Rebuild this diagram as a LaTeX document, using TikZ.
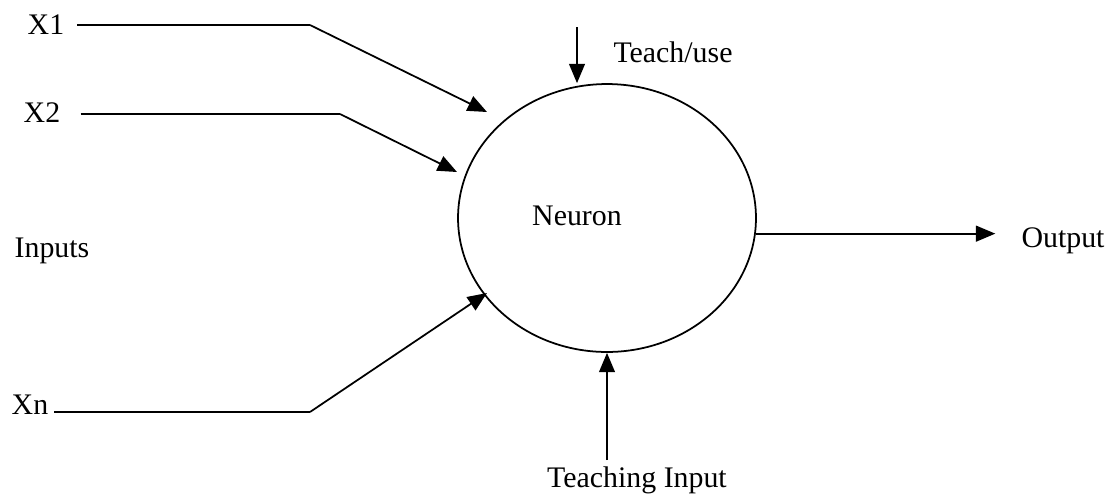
\documentclass[tikz,border=0pt]{standalone}
\usepackage{fontspec}
\setmainfont{Liberation Serif}
\usetikzlibrary{shapes.geometric,arrows.meta,positioning,calc}

\begin{document}
\begin{tikzpicture}[
  x=0.02cm, y=-0.02cm,
  every node/.style={font=\fontsize{17}{20}\selectfont},
  lbl/.style={inner sep=0.3333em},
  wire/.style={line width=1pt},
  feed/.style={line width=1pt, -{Triangle[length=11pt,width=9pt]}},
  cell/.style={draw, ellipse, line width=1pt, minimum width=5.96cm,
    minimum height=5.36cm, inner sep=0pt}]
\useasboundingbox (0,0) rectangle (1112,495);
% the neuron and its label
\node[cell] (neuron) at (607,218) {};
\node[lbl] (neuronlbl) at (577,216) {Neuron};
% input labels
\node[lbl] (x1) at (46,25) {X1};
\node[lbl] (x2) at (42,113) {X2};
\node[lbl] (xn) at (30,405) {Xn};
\node[lbl] (inputs) at (52,251) {Inputs};
\node[lbl] (teachuse) at (673,52) {Teach/use};
\node[lbl] (teachin) at (637,480) {Teaching Input};
\node[lbl] (output) at (1063,241) {Output};
% bends and tips of the input wires
\coordinate (b1) at (310,25);
\coordinate (t1) at (487,112);
\coordinate (b2) at (340,114);
\coordinate (t2) at (457,172);
\coordinate (bn) at (310,412);
\coordinate (tn) at (487,293);
\coordinate (tu) at (577,27);
\draw[wire] ([xshift=4]x1.east |- b1) -- (b1);
\draw[feed] (b1) -- (t1);
\draw[wire] ([xshift=8]x2.east |- b2) -- (b2);
\draw[feed] (b2) -- (t2);
\draw[wire] (xn.east |- bn) -- (bn);
\draw[feed] (bn) -- (tn);
% control inputs and the output
\draw[feed] (tu) -- (tu |- neuron.north);
\draw[feed] (neuron.south |- teachin.north) -- (neuron.south);
\draw[feed, shorten >=0.4cm] (neuron.-6) -- (neuron.-6 -| output.west);
\end{tikzpicture}
\end{document}
